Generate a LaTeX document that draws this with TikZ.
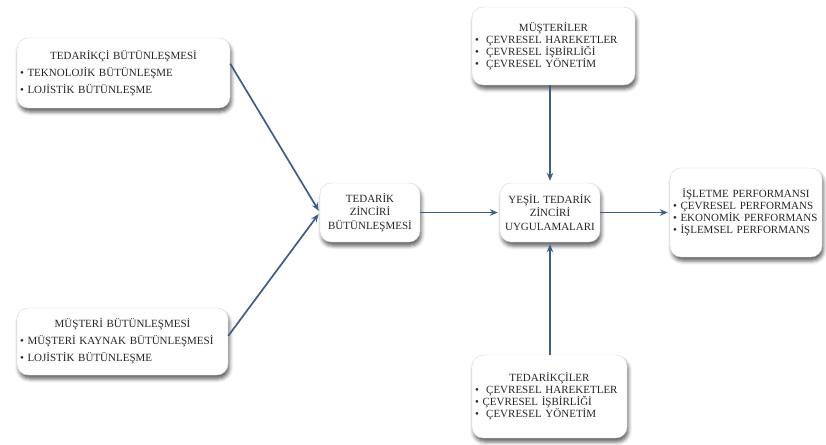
\documentclass[tikz,border=0pt]{standalone}
\usepackage{fontspec}
\setmainfont{Liberation Serif}
\usetikzlibrary{arrows.meta, shadows.blur}
\definecolor{linkblue}{HTML}{3F5E86}

\begin{document}
\begin{tikzpicture}
	[%
	x=1pt, y=-1pt,%
	box/.style ={rectangle,	rounded corners=11pt,	draw=black!15,	fill=white,	blur shadow={shadow xshift=1.5pt, shadow yshift=-4pt, shadow blur radius=3.5pt, shadow opacity=60},	inner xsep=3pt,	inner ysep=0pt,	align=left,	text=black!85,	font=\fontsize{11}{12}\selectfont},%
	midbox/.style ={box,	align=center,	minimum width=100pt,	minimum height=59pt,	text width=94pt,	font=\fontsize{11}{13.5}\selectfont},%
	link/.style ={draw=linkblue,	line width=1.7pt,	-{Stealth[length=8pt, width=6.5pt]},	shorten >=2pt},%
	]

	\useasboundingbox (0,0) rectangle (826,444);

	\newcommand{\cmid}{212.5}

	% nodes
	\node (supint) at (123.5,73) [box, minimum width=213pt, minimum height=70pt, text width=207pt, font=\fontsize{11}{17}\selectfont]
		{\makebox[\linewidth]{TEDARİKÇİ BÜTÜNLEŞMESİ}\\ \textbullet\ TEKNOLOJİK BÜTÜNLEŞME\\ \textbullet\ LOJİSTİK BÜTÜNLEŞME};
	\node (custint) at (122.5,341.5) [box, minimum width=211pt, minimum height=67pt, text width=205pt, font=\fontsize{11}{17}\selectfont]
		{\makebox[\linewidth]{MÜŞTERİ BÜTÜNLEŞMESİ}\\ \textbullet\ MÜŞTERİ KAYNAK BÜTÜNLEŞMESİ\\ \textbullet\ LOJİSTİK BÜTÜNLEŞME};
	\node (custs) at (553.5,46) [box, minimum width=163pt, minimum height=78pt, text width=157pt]
		{\makebox[\linewidth]{MÜŞTERİLER}\\ \textbullet\ \ ÇEVRESEL HAREKETLER\\ \textbullet\ \ ÇEVRESEL İŞBİRLİĞİ\\ \textbullet\ \ ÇEVRESEL YÖNETİM};
	\node (supps) at (549.5,396.5) [box, minimum width=155pt, minimum height=83pt, text width=149pt]
		{\makebox[\linewidth]{TEDARİKÇİLER}\\ \textbullet\ \ ÇEVRESEL HAREKETLER\\ \textbullet\ ÇEVRESEL İŞBİRLİĞİ\\ \textbullet\ \ ÇEVRESEL YÖNETİM};

	\node (sci) at (370,\cmid) [midbox] {TEDARİK\\ ZİNCİRİ\\ BÜTÜNLEŞMESİ};
	\node (gscm) at (550,\cmid) [midbox] {YEŞİL TEDARİK\\ ZİNCİRİ\\ UYGULAMALARI};

	\node (perf) at (746,\cmid) [box, minimum width=152pt, minimum height=89pt, text width=146pt]
		{\makebox[\linewidth]{İŞLETME PERFORMANSI}\\ \textbullet\ ÇEVRESEL PERFORMANS\\ \textbullet\ EKONOMİK PERFORMANS\\ \textbullet\ İŞLEMSEL PERFORMANS};

	% interconnections
	\draw [link] (supint.5) -- (sci.west);
	\draw [link] (custint.3) -- (sci.west);
	\draw [link] (sci) -- (gscm);
	\draw [link] (custs.south -| gscm.north) -- (gscm);
	\draw [link] (supps.north -| gscm.south) -- (gscm);
	\draw [link] (gscm) -- (perf);

\end{tikzpicture}
\end{document}
